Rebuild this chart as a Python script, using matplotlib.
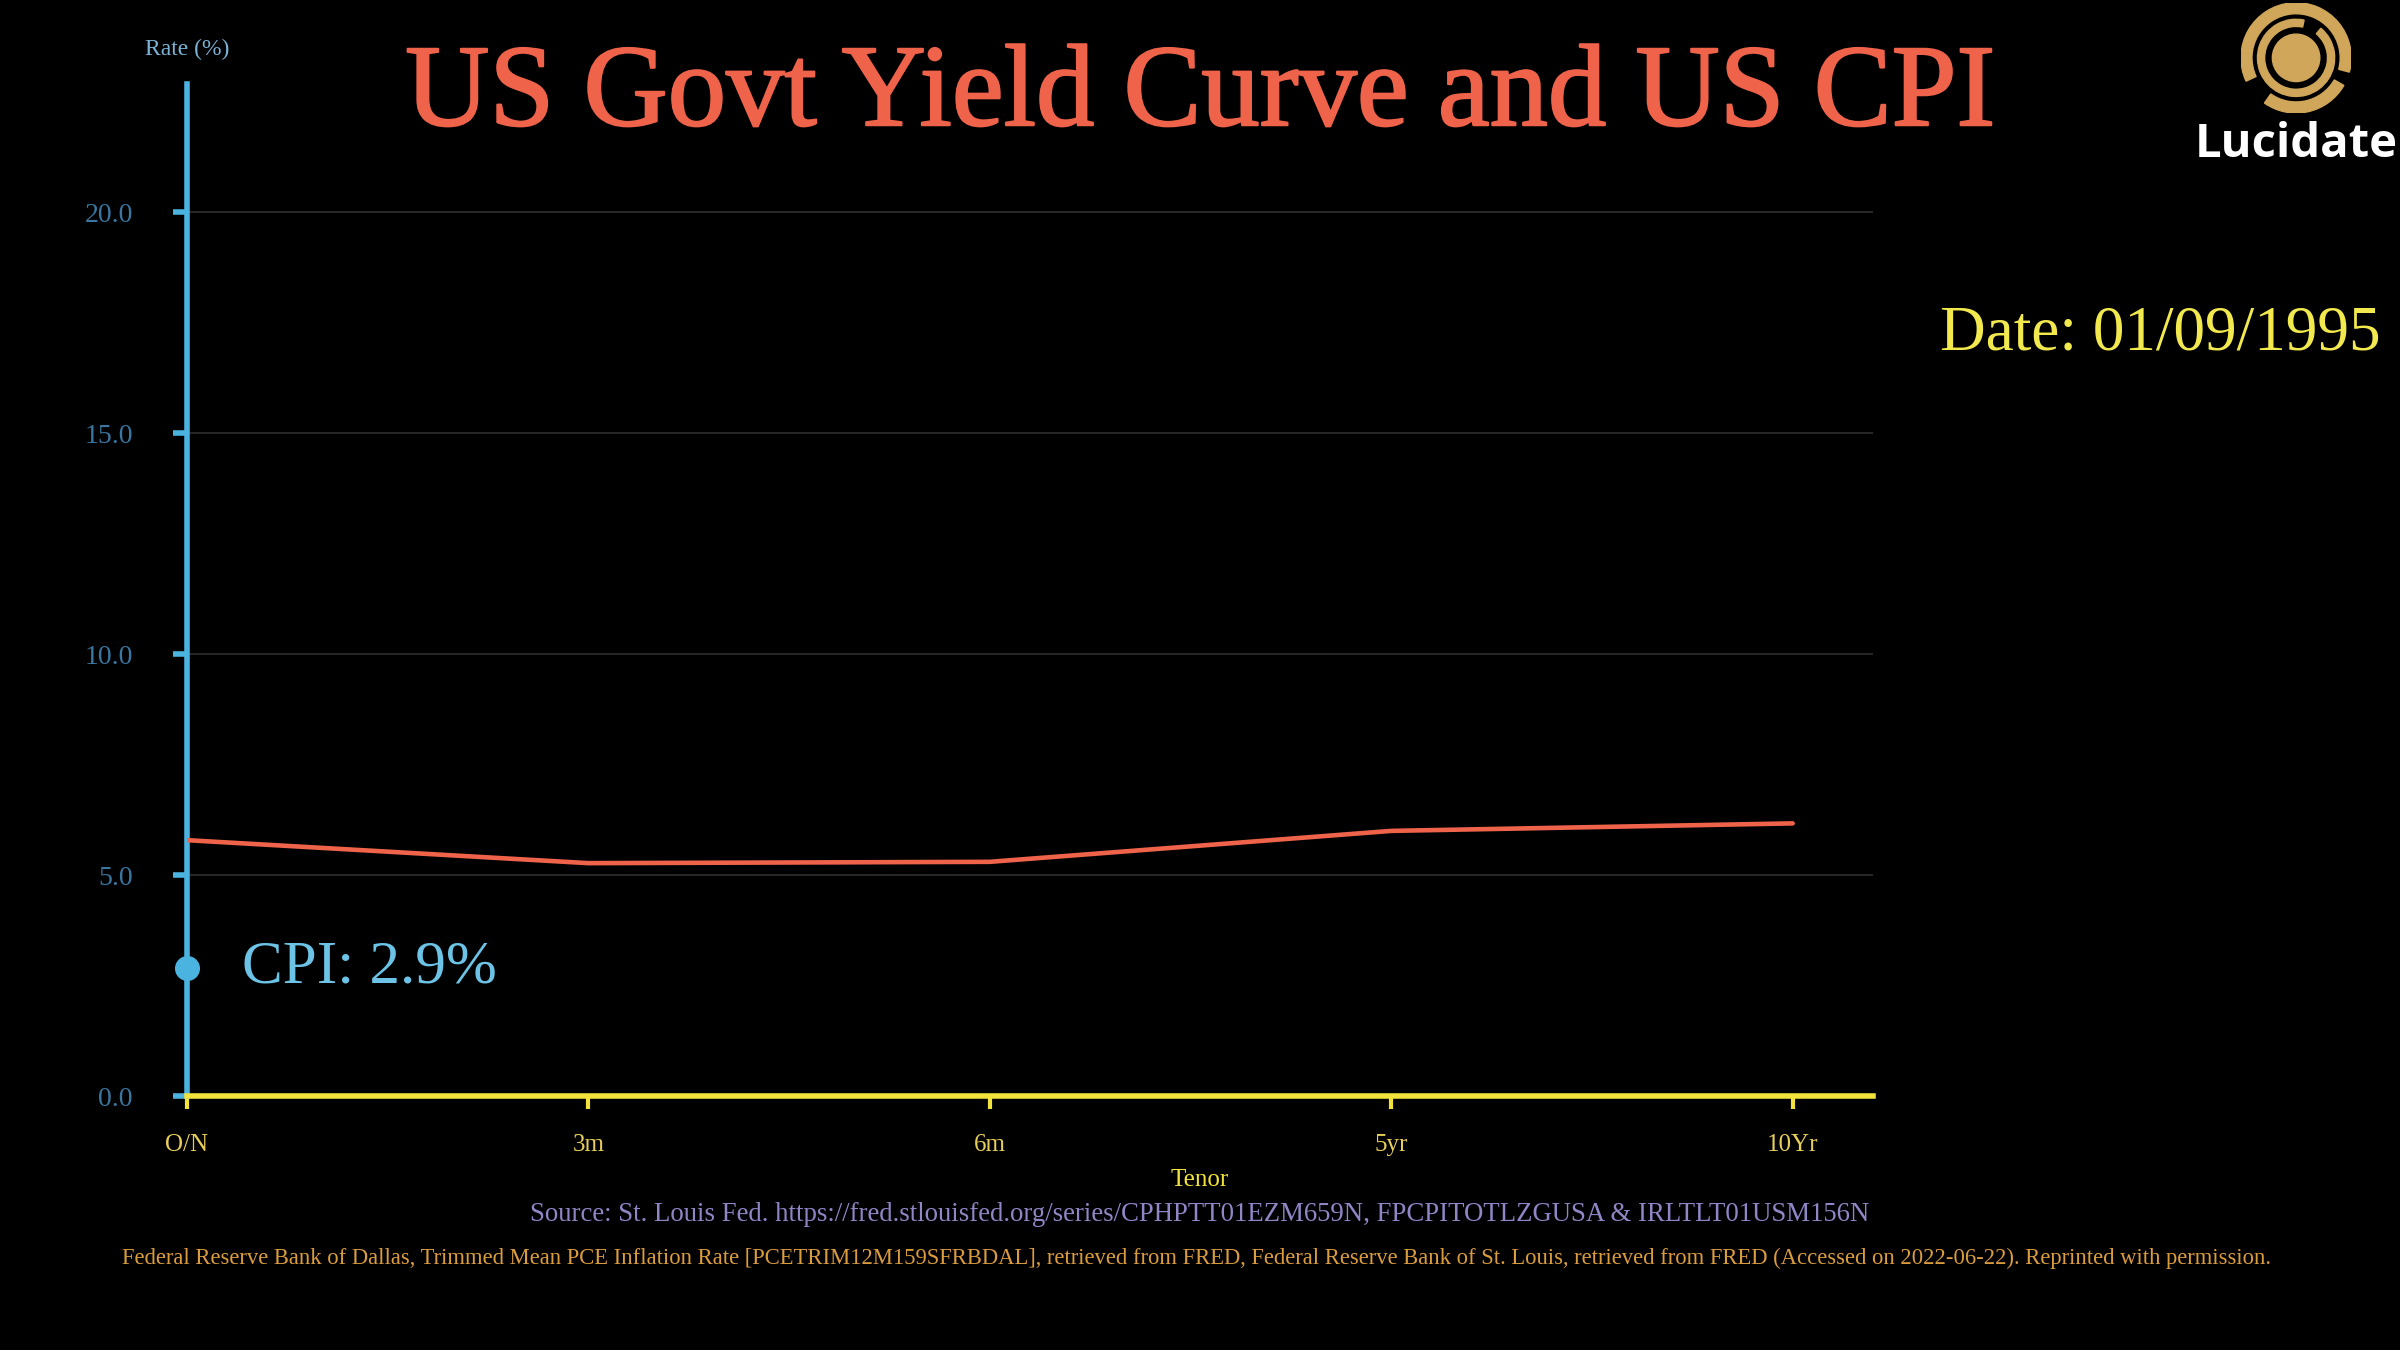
import matplotlib
matplotlib.use('Agg')
import matplotlib.pyplot as plt
import matplotlib.patheffects as pe
from matplotlib.patches import Wedge, Circle

# data
tenors = ['O/N', '3m', '6m', '5yr', '10Yr']
yields = [5.79, 5.27, 5.30, 6.00, 6.17]
cpi = 2.9
date_str = '01/09/1995'
y_ticks = [0.0, 5.0, 10.0, 15.0, 20.0]

source_txt = ('Source: St. Louis Fed. https://fred.stlouisfed.org/series/CPHPTT01EZM659N, '
              'FPCPITOTLZGUSA & IRLTLT01USM156N')
footer_txt = ('Federal Reserve Bank of Dallas, Trimmed Mean PCE Inflation Rate [PCETRIM12M159SFRBDAL], '
              'retrieved from FRED, Federal Reserve Bank of St. Louis, retrieved from FRED '
              '(Accessed on 2022-06-22). Reprinted with permission.')

serif = ['Liberation Serif', 'DejaVu Serif']
BLUE = '#4BB3E0'
YELLOW = '#F2E23C'
CORAL = '#F0634B'

fig = plt.figure(figsize=(24, 13.5), dpi=100, facecolor='black')
ax = fig.add_axes([0.0779, 0.1881, 0.7025, 0.7497], facecolor='black')

x = list(range(len(tenors)))
ax.plot(x, yields, color=CORAL, lw=3.3, solid_capstyle='round', zorder=3)
ax.plot([0], [cpi], 'o', color=BLUE, ms=17, clip_on=False, zorder=4)
ax.text(0.137, cpi, f'CPI: {cpi}%', color='#6CC3E6', fontsize=44, family=serif,
        va='center', ha='left')

ax.set_xlim(0, 4.2)
ax.set_ylim(0, 22.9)
ax.set_xticks(x)
ax.set_xticklabels(tenors)
ax.set_yticks(y_ticks)
ax.set_yticklabels([f'{v:.1f}' for v in y_ticks])

for s in ['top', 'right']:
    ax.spines[s].set_visible(False)
ax.spines['left'].set_color(BLUE)
ax.spines['left'].set_linewidth(4)
ax.spines['bottom'].set_color(YELLOW)
ax.spines['bottom'].set_linewidth(4)
ax.spines['bottom'].set_zorder(5)

ax.tick_params(axis='y', colors=BLUE, length=10, width=4, pad=29,
               labelsize=20, labelcolor='#3A76A0')
ax.tick_params(axis='x', colors=YELLOW, length=9, width=3, pad=18,
               labelsize=18, labelcolor='#E8CF5A')
for lab in ax.get_xticklabels() + ax.get_yticklabels():
    lab.set_family(serif)

ax.yaxis.grid(True, color='#2E2E2E', lw=1.2)
ax.set_axisbelow(True)
for gl in ax.get_ygridlines()[:1]:
    gl.set_visible(False)

# axis label centred on the figure, as in the original
fig.text(0.5, 0.1259, 'Tenor', color=YELLOW, fontsize=18, family=serif,
         ha='center', va='center')

# titles and notes
title = fig.text(0.5, 0.928, 'US Govt Yield Curve and US CPI', color=CORAL, fontsize=84,
                 family=serif, ha='center', va='center')
title.set_path_effects([pe.withStroke(linewidth=1.5, foreground=CORAL)])
fig.text(0.0779, 0.9637, 'Rate (%)', color='#7BB3D6', fontsize=17, family=serif,
         ha='center', va='center')
fig.text(0.992, 0.752, f'Date: {date_str}', color='#F2E94E', fontsize=45.5,
         family=serif, ha='right', va='center')
src = fig.text(0.779, 0.1007, source_txt, color='#8F86C6', fontsize=16,
               family=serif, ha='right', va='center')
foot = fig.text(0.0508, 0.068, footer_txt, color='#DB9C3E', fontsize=14,
                family=serif, ha='left', va='center')

# fit long notes to their widths in the reference
fig.canvas.draw()
r = fig.canvas.get_renderer()
for t, w in [(src, 1342), (foot, 2158)]:
    cur = t.get_window_extent(r).width
    t.set_fontsize(t.get_fontsize() * w / cur)

# logo
lax = fig.add_axes([0.9337, 0.9163, 0.046, 0.0817], facecolor='none')
lax.set_xlim(-1, 1)
lax.set_ylim(-1, 1)
lax.set_aspect('equal')
lax.axis('off')
GOLD = '#CFA65A'
lax.add_patch(Wedge((0, 0), 1.0, -15, 205, width=0.2, color=GOLD))
lax.add_patch(Wedge((0, 0), 1.0, 235, 330, width=0.2, color=GOLD))
lax.add_patch(Wedge((0, 0), 0.7, 78, 410, width=0.13, color=GOLD))
lax.add_patch(Circle((0, 0), 0.43, color=GOLD))
fig.text(0.9567, 0.893, 'Lucidate', color='white', fontsize=34,
         family=['Open Sans', 'DejaVu Sans'], fontweight='bold', ha='center', va='center')

fig.savefig('out.png', dpi=100, facecolor='black')
